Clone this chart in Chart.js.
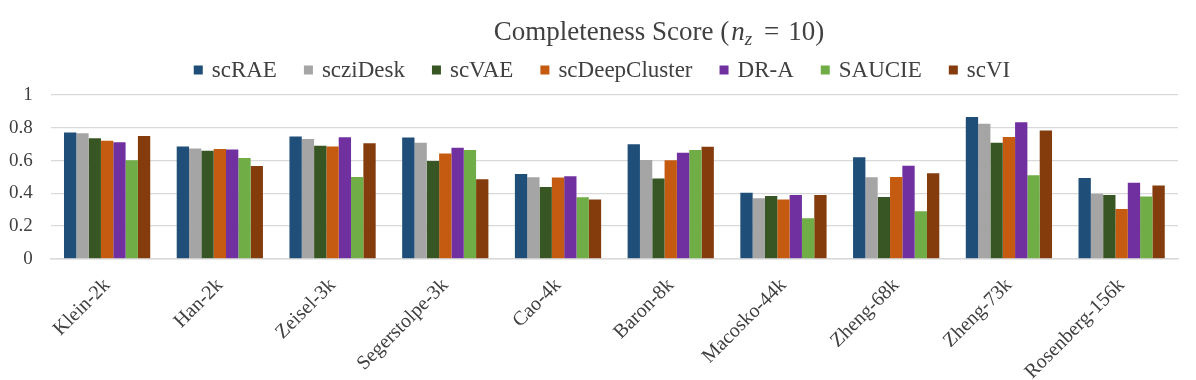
<!DOCTYPE html>
<html>
<head>
<meta charset="utf-8">
<script src="https://cdn.jsdelivr.net/npm/chart.js@4.4.1/dist/chart.umd.min.js"></script>
<style>
  html, body { margin: 0; padding: 0; background: #ffffff; }
  #wrap { width: 1196px; height: 380px; }
</style>
</head>
<body>
<div id="wrap"><canvas id="c" width="1196" height="380"></canvas></div>
<script>
const categories = ["Klein-2k", "Han-2k", "Zeisel-3k", "Segerstolpe-3k", "Cao-4k", "Baron-8k", "Macosko-44k", "Zheng-68k", "Zheng-73k", "Rosenberg-156k"];
const seriesNames = ["scRAE", "scziDesk", "scVAE", "scDeepCluster", "DR-A", "SAUCIE", "scVI"];
const scRAE         = [0.771, 0.686, 0.746, 0.740, 0.517, 0.700, 0.403, 0.620, 0.866, 0.494];
const scziDesk      = [0.767, 0.674, 0.731, 0.709, 0.498, 0.603, 0.370, 0.498, 0.824, 0.397];
const scVAE         = [0.736, 0.659, 0.690, 0.597, 0.438, 0.490, 0.384, 0.378, 0.709, 0.390];
const scDeepCluster = [0.721, 0.671, 0.686, 0.643, 0.496, 0.601, 0.362, 0.500, 0.744, 0.304];
const DRA           = [0.711, 0.667, 0.742, 0.678, 0.504, 0.647, 0.390, 0.568, 0.833, 0.465];
const SAUCIE        = [0.601, 0.616, 0.500, 0.665, 0.376, 0.665, 0.248, 0.291, 0.510, 0.380];
const scVI          = [0.750, 0.566, 0.705, 0.486, 0.362, 0.684, 0.390, 0.523, 0.783, 0.448];
const yTicks = [0, 0.2, 0.4, 0.6, 0.8, 1];

const colors = ["#1F4E79", "#A5A5A5", "#375623", "#C55A11", "#7030A0", "#70AD47", "#843C0C"];
const values = [scRAE, scziDesk, scVAE, scDeepCluster, DRA, SAUCIE, scVI];

const serif = "'Liberation Serif', 'Times New Roman', serif";
const textColor = '#404040';

const titlePlugin = {
  id: 'mathTitle',
  afterDraw(chart) {
    const ctx = chart.ctx;
    ctx.save();
    ctx.fillStyle = textColor;
    ctx.textBaseline = 'alphabetic';
    ctx.textAlign = 'left';
    const y = 40;
    const parts = [
      {t: 'Completeness Score (', f: '27px ' + serif, dy: 0, gap: 2},
      {t: 'n', f: 'italic 27px ' + serif, dy: 0, gap: 0},
      {t: 'z', f: 'italic 19px ' + serif, dy: 5, gap: 12},
      {t: '=', f: '27px ' + serif, dy: 0, gap: 9},
      {t: '10)', f: '27px ' + serif, dy: 0, gap: 0}
    ];
    let total = 0;
    parts.forEach(p => { ctx.font = p.f; p.w = ctx.measureText(p.t).width; total += p.w + p.gap; });
    let x = 659 - total / 2;
    parts.forEach(p => { ctx.font = p.f; ctx.fillText(p.t, x, y + p.dy); x += p.w + p.gap; });
    ctx.restore();
  }
};

const legendPlugin = {
  id: 'customLegend',
  afterDraw(chart) {
    const ctx = chart.ctx;
    ctx.save();
    ctx.font = '23px ' + serif;
    ctx.textBaseline = 'middle';
    ctx.textAlign = 'left';
    const box = 9, gapText = 9, gapItem = 27, cy = 71;
    const widths = chart.data.datasets.map(d => ctx.measureText(d.label).width);
    let total = 0;
    widths.forEach((w, i) => { total += box + gapText + w + (i < widths.length - 1 ? gapItem : 0); });
    let x = 602 - total / 2;
    chart.data.datasets.forEach((d, i) => {
      ctx.fillStyle = d.backgroundColor;
      ctx.fillRect(x, cy - box / 2 - 1, box, box);
      ctx.fillStyle = textColor;
      ctx.fillText(d.label, x + box + gapText, cy);
      x += box + gapText + widths[i] + gapItem;
    });
    ctx.restore();
  }
};

new Chart(document.getElementById('c'), {
  type: 'bar',
  data: {
    labels: categories,
    datasets: seriesNames.map((n, i) => ({
      label: n,
      data: values[i],
      backgroundColor: colors[i],
      borderWidth: 0
    }))
  },
  options: {
    responsive: false,
    animation: false,
    devicePixelRatio: 1,
    layout: { padding: { top: 95, right: 18, left: -9, bottom: -11 } },
    datasets: { bar: { categoryPercentage: 0.765, barPercentage: 1.0 } },
    plugins: {
      title: { display: false },
      tooltip: { enabled: false },
      legend: { display: false }
    },
    scales: {
      x: {
        grid: { display: false },
        border: { display: true, color: '#D9D9D9', width: 1.5 },
        ticks: {
          minRotation: 45, maxRotation: 45,
          color: textColor,
          font: { family: serif, size: 20 },
          padding: 7
        }
      },
      y: {
        min: 0, max: 1,
        afterBuildTicks: (axis) => { axis.ticks = yTicks.map(v => ({ value: v })); },
        grid: { color: '#D9D9D9', lineWidth: 1.2, drawTicks: false },
        border: { display: false },
        ticks: {
          color: textColor,
          font: { family: serif, size: 19 },
          padding: 18,
          callback: (v) => String(Math.round(v * 10) / 10)
        }
      }
    }
  },
  plugins: [titlePlugin, legendPlugin]
});
</script>
</body>
</html>
